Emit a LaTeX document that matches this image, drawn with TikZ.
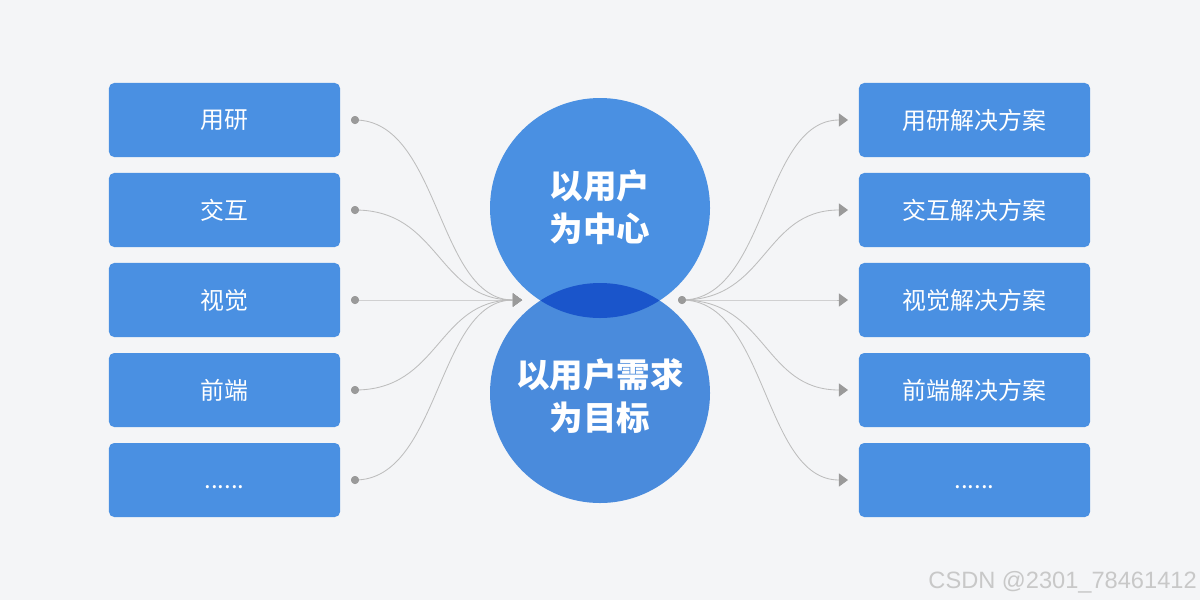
\documentclass[tikz,border=0pt]{standalone}
\usepackage{fontspec}
\newfontfamily\cjk{Noto Sans CJK SC}
\setsansfont{Liberation Sans}
\usetikzlibrary{arrows.meta,calc}
\definecolor{bg}{HTML}{F4F5F7}
\definecolor{boxblue}{HTML}{4A90E2}
\definecolor{circtop}{HTML}{4A90E2}
\definecolor{circbot}{HTML}{4A8BDC}
\definecolor{lens}{HTML}{1A55CB}
\definecolor{conn}{HTML}{BDBDBD}
\definecolor{dotc}{HTML}{9A9A9A}
\definecolor{wm}{HTML}{C8C8C8}
\newcommand\mysixdots{\vphantom{用}......}
\tikzset{
  itembox/.style={fill=boxblue, rounded corners=0.13cm, minimum width=5.775cm, minimum height=1.85cm, inner sep=0pt, text=white, font=\cjk\fontsize{17}{20}\selectfont},
  dotnode/.style={circle, fill=dotc, inner sep=0pt, minimum size=0.2cm},
  link/.style={draw=conn, line width=0.6pt},
  arrowlink/.style={link, -{Triangle[length=0.23cm, width=0.33cm, fill=dotc, color=dotc]}},
  circtext/.style={text=white, align=center, font=\cjk\bfseries\fontsize{23.8}{31}\selectfont}
}
\begin{document}
\begin{tikzpicture}[x=0.025cm, y=-0.025cm]
\fill[bg] (0,0) rectangle (1200,600);
\useasboundingbox (0,0) rectangle (1200,600);

% circles
\path[fill=circtop] (600,208) circle[radius=110];
\path[fill=circbot] (600,393) circle[radius=110];
\begin{scope}
  \clip (600,393) circle[radius=110];
  \path[fill=lens] (600,208) circle[radius=110];
\end{scope}
\node[circtext] (c1) at (600,207) {以用户\\为中心};
\node[circtext] (c2) at (600,396) {以用户需求\\为目标};

% left boxes
\foreach \i/\t/\y in {1/用研/120, 2/交互/210, 3/视觉/300, 4/前端/390, 5/\mysixdots/480} {
  \node[itembox] (L\i) at (224.5,\y) {\t};
  \node[dotnode] (ld\i) at (355,\y) {};
}
% right boxes
\foreach \i/\t/\y in {1/用研解决方案/120, 2/交互解决方案/210, 3/视觉解决方案/300, 4/前端解决方案/390, 5/\mysixdots/480} {
  \node[itembox] (R\i) at (974.5,\y) {\t};
  \coordinate (ra\i) at (848,\y);
}
\coordinate (la) at (522,300);
\node[dotnode] (rd) at (682,300) {};

% left connectors
\foreach \i in {1,2,3,4,5} {
  \draw[arrowlink] (ld\i.center) .. controls ($(ld\i.center)+(85,0)$) and ($(la)+(-85,0)$) .. (la);
}
% right connectors
\foreach \i in {1,2,3,4,5} {
  \draw[arrowlink] (rd.center) .. controls ($(rd.center)+(85,0)$) and ($(ra\i)+(-85,0)$) .. (ra\i);
}
\foreach \i in {1,2,3,4,5} { \node[dotnode] at (ld\i) {}; }
\node[dotnode] at (rd) {};

\node[text=wm, anchor=base east, font=\sffamily\fontsize{16.8}{19}\selectfont, inner sep=0pt] (wmk) at (1197,588) {CSDN @2301\_78461412};
\end{tikzpicture}
\end{document}
